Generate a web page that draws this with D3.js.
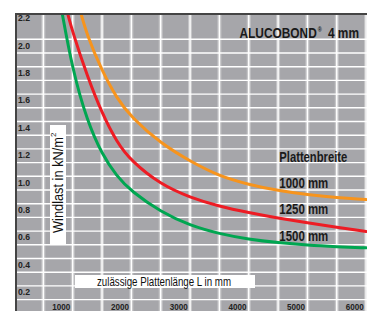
<!DOCTYPE html>
<html>
<head>
<meta charset="utf-8">
<script src="https://cdn.jsdelivr.net/npm/d3@7"></script>
<style>
  html, body { margin: 0; padding: 0; background: #fff; }
  svg { display: block; }
</style>
</head>
<body>
<script>
// ---- data ----
const lengthsOrange = [1600, 1750, 2000, 2250, 2500, 3000, 3500, 4000, 4500, 5000, 5500, 6000, 6500];
const load1000 = [2.25, 2.02, 1.77, 1.57, 1.43, 1.24, 1.11, 1.00, 0.94, 0.895, 0.865, 0.845, 0.83];

const lengthsRed = [1400, 1500, 1750, 2000, 2250, 2500, 3000, 3500, 4000, 4500, 5000, 5500, 6000, 6500];
const load1250 = [2.21, 2.05, 1.73, 1.46, 1.25, 1.11, 0.94, 0.845, 0.78, 0.735, 0.695, 0.66, 0.627, 0.597];

const lengthsGreen = [1300, 1500, 1750, 2000, 2250, 2500, 3000, 3500, 4000, 4500, 5000, 5500, 6000, 6500];
const load1500 = [2.24, 1.77, 1.40, 1.16, 1.00, 0.89, 0.74, 0.64, 0.58, 0.54, 0.515, 0.497, 0.486, 0.478];

const seriesNames = ["1000 mm", "1250 mm", "1500 mm"];
const seriesColors = ["#f7941d", "#ed1c24", "#00a651"];

const xTickValues = [1000, 2000, 3000, 4000, 5000, 6000];
const yTickValues = [0.2, 0.4, 0.6, 0.8, 1.0, 1.2, 1.4, 1.6, 1.8, 2.0, 2.2];
const xGridValues = [1000, 1500, 2000, 2500, 3000, 3500, 4000, 4500, 5000, 5500, 6000, 6500];
const yGridValues = [0.1, 0.2, 0.3, 0.4, 0.5, 0.6, 0.7, 0.8, 0.9, 1.0, 1.1, 1.2, 1.3, 1.4, 1.5, 1.6, 1.7, 1.8, 1.9, 2.0];

const titleText = "ALUCOBOND";
const titleSuffix = "4 mm";
const legendTitle = "Plattenbreite";
const yTitle = "Windlast in kN/m";
const xTitle = "zulässige Plattenlänge L in mm";

// ---- layout ----
const W = 367, H = 311;
const plot = { left: 16, top: 14, right: 367, bottom: 311 };

const x = d3.scaleLinear().domain([500, 6500]).range([14, 366.1]);
const y = d3.scaleLinear().domain([0, 2.2]).range([313.3, 11.9]);

const font = "'Liberation Sans', Arial, sans-serif";

const svg = d3.select("body").append("svg")
  .attr("width", W).attr("height", H);

svg.append("rect").attr("width", W).attr("height", H).attr("fill", "#fff");

svg.append("defs").append("clipPath").attr("id", "clip")
  .append("rect")
  .attr("x", plot.left).attr("y", plot.top)
  .attr("width", plot.right - plot.left).attr("height", plot.bottom - plot.top);

// background
svg.append("rect")
  .attr("x", plot.left).attr("y", plot.top)
  .attr("width", plot.right - plot.left).attr("height", plot.bottom - plot.top)
  .attr("fill", "#a6a6aa");

const grid = svg.append("g").attr("clip-path", "url(#clip)");

// vertical gridlines (halo + core)
grid.selectAll("line.vh").data(xGridValues).join("line")
  .attr("class", "vh")
  .attr("x1", d => x(d)).attr("x2", d => x(d))
  .attr("y1", plot.top).attr("y2", plot.bottom)
  .attr("stroke", "rgba(255,255,255,0.35)").attr("stroke-width", 4);
grid.selectAll("line.vc").data(xGridValues).join("line")
  .attr("class", "vc")
  .attr("x1", d => x(d)).attr("x2", d => x(d))
  .attr("y1", plot.top).attr("y2", plot.bottom)
  .attr("stroke", "#fff").attr("stroke-width", 1.4);

// horizontal gridlines
grid.selectAll("line.h").data(yGridValues).join("line")
  .attr("class", "h")
  .attr("x1", plot.left).attr("x2", plot.right)
  .attr("y1", d => y(d)).attr("y2", d => y(d))
  .attr("stroke", "#fff").attr("stroke-width", 1.4);

// axis title boxes
svg.append("rect").attr("x", 50).attr("y", 125).attr("width", 16).attr("height", 120).attr("fill", "#fff");
const yt = svg.append("text")
  .attr("transform", `translate(63.3,233) rotate(-90)`)
  .attr("font-family", font)
  .attr("font-size", 15)
  .attr("fill", "#111");
yt.append("tspan").attr("textLength", 96).attr("lengthAdjust", "spacingAndGlyphs").text(yTitle);
yt.append("tspan").attr("font-size", 8).attr("dy", -7).text("2");

svg.append("rect").attr("x", 75).attr("y", 275).attr("width", 180).attr("height", 13).attr("fill", "#fff");
svg.append("text")
  .attr("x", 97).attr("y", 285.8)
  .attr("font-family", font)
  .attr("font-size", 13)
  .attr("fill", "#111")
  .attr("textLength", 134).attr("lengthAdjust", "spacingAndGlyphs")
  .text(xTitle);

// curves
const series = [
  { name: seriesNames[0], color: seriesColors[0], L: lengthsOrange, v: load1000 },
  { name: seriesNames[1], color: seriesColors[1], L: lengthsRed, v: load1250 },
  { name: seriesNames[2], color: seriesColors[2], L: lengthsGreen, v: load1500 }
];
const line = d3.line().x(d => x(d[0])).y(d => y(d[1])).curve(d3.curveBasis);
const curves = svg.append("g").attr("clip-path", "url(#clip)");
curves.selectAll("path").data(series).join("path")
  .attr("d", s => line(s.L.map((l, i) => [l, s.v[i]])))
  .attr("fill", "none")
  .attr("stroke", s => s.color)
  .attr("stroke-width", 3)
  .attr("stroke-linecap", "round");

// frame (left and top)
svg.append("line").attr("x1", plot.left).attr("x2", plot.left).attr("y1", plot.top - 1).attr("y2", H)
  .attr("stroke", "#444").attr("stroke-width", 2);
svg.append("line").attr("x1", plot.left - 1).attr("x2", W).attr("y1", plot.top).attr("y2", plot.top)
  .attr("stroke", "#444").attr("stroke-width", 2);

// y tick labels
const yAxis = svg.append("g").attr("transform", "translate(18,0)")
  .call(d3.axisRight(y).tickValues(yTickValues).tickSize(0).tickPadding(0).tickFormat(d3.format(".1f")));
yAxis.select(".domain").remove();
yAxis.selectAll("text")
  .attr("x", 0).attr("dy", null).attr("y", 8.8)
  .attr("text-anchor", "start")
  .attr("font-family", font).attr("font-size", 9).attr("font-weight", "bold")
  .attr("textLength", 12).attr("lengthAdjust", "spacingAndGlyphs")
  .attr("fill", "#222");

// x tick labels
const xAxis = svg.append("g").attr("transform", "translate(0,310)")
  .call(d3.axisBottom(x).tickValues(xTickValues).tickSize(0).tickPadding(0).tickFormat(d3.format("d")));
xAxis.select(".domain").remove();
xAxis.selectAll("text")
  .attr("y", 0).attr("dy", null).attr("x", 8.5)
  .attr("text-anchor", "start")
  .attr("font-family", font).attr("font-size", 9).attr("font-weight", "bold")
  .attr("textLength", 18).attr("lengthAdjust", "spacingAndGlyphs")
  .attr("fill", "#222");

// title (one text element, condensed horizontally)
const title = svg.append("text")
  .attr("transform", "translate(239.5,38) scale(0.85,1)")
  .attr("font-family", font).attr("font-weight", "bold").attr("font-size", 14)
  .attr("fill", "#1a1a1a");
title.append("tspan").attr("x", 0).text(titleText);
title.append("tspan").attr("x", 92).attr("dy", -6).attr("font-size", 6.5).text("®");
title.append("tspan").attr("x", 104).attr("dy", 6).text(titleSuffix);

// legend
const legend = svg.append("g")
  .attr("font-family", font).attr("font-size", 14).attr("font-weight", "bold").attr("fill", "#1a1a1a");
legend.append("text").attr("x", 279.3).attr("y", 161.5)
  .attr("textLength", 68).attr("lengthAdjust", "spacingAndGlyphs").text(legendTitle);
legend.selectAll("text.item").data(series).join("text")
  .attr("class", "item")
  .attr("x", 279.3)
  .attr("y", (d, i) => 187.5 + i * 26.5)
  .attr("textLength", 49).attr("lengthAdjust", "spacingAndGlyphs")
  .text(d => d.name);
</script>
</body>
</html>
